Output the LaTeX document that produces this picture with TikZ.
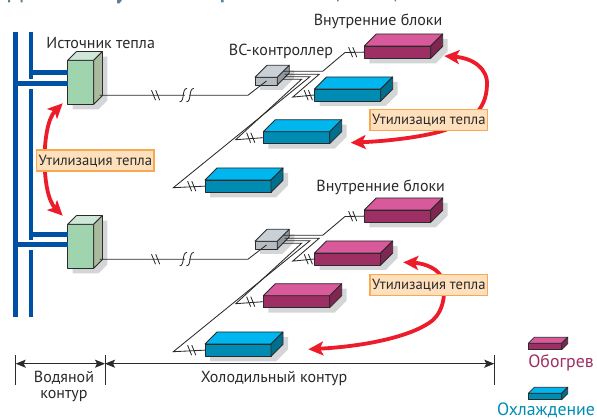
\documentclass[tikz,border=0pt]{standalone}
\usepackage{fontspec}
\setmainfont{PT Sans}
\usetikzlibrary{arrows.meta,calc}
\definecolor{lc}{HTML}{2B2A2B}
\definecolor{shad}{HTML}{D3D5D7}
\definecolor{pipe}{HTML}{0050A4}
\definecolor{heat}{HTML}{ED1C2A}
\definecolor{lbord}{HTML}{F7A850}
\definecolor{lfill}{HTML}{FFE0BC}
\definecolor{greenT}{HTML}{CFE7D8}\definecolor{greenF}{HTML}{9FD4AE}\definecolor{greenS}{HTML}{A9BA9E}
\definecolor{grayT}{HTML}{C9D1D7}\definecolor{grayF}{HTML}{B5BDC3}\definecolor{grayS}{HTML}{8F999F}
\definecolor{blueT}{HTML}{00B6EE}\definecolor{blueF}{HTML}{008CB2}\definecolor{blueS}{HTML}{006F8E}
\definecolor{magT}{HTML}{D95A9A}\definecolor{magF}{HTML}{9E2F65}\definecolor{magS}{HTML}{7F2750}
\definecolor{titlec}{HTML}{5A8299}
\tikzset{
  wire/.style={draw=lc,line width=0.85pt},
  dimline/.style={draw=lc,line width=0.85pt},
  dimarrow/.style={{Stealth[length=10pt,width=8pt,inset=2pt]}-{Stealth[length=10pt,width=8pt,inset=2pt]}},
  edgeline/.style={draw=lc,line width=0.8pt,line join=round},
  pipeline/.style={draw=pipe,line width=4.6pt},
  heatarrow/.style={draw=heat,line width=3.8pt,{Stealth[length=15pt,width=14pt,inset=3.5pt]}-{Stealth[length=15pt,width=14pt,inset=3.5pt]}},
  heatlabel/.style={draw=lbord,fill=lfill,line width=1.8pt,inner sep=0pt,minimum width=117.5pt,minimum height=21pt,font=\fontsize{14.7}{16}\selectfont,text=lc},
  caption/.style={font=\fontsize{16}{16}\selectfont,text=lc,inner sep=0pt,align=center},
}
\newcommand\boxonly[7]{%
  \node[edgeline,fill=#7F,inner sep=0pt,outer sep=0pt,anchor=north west,
        minimum width={(#4-#2)*1pt},minimum height={(#5-#3)*1pt}] (#1) at (#2,#3) {};
  \filldraw[edgeline,fill=#7T] (#2,#3) -- ({#2+#6},{#3-#6}) -- ({#4+#6},{#3-#6}) -- (#4,#3) -- cycle;
  \filldraw[edgeline,fill=#7S] (#4,#3) -- ({#4+#6},{#3-#6}) -- ({#4+#6},{#5-#6}) -- (#4,#5) -- cycle;
}
\newcommand\unitbox[7]{%
  \fill[shad] ({#2+5},{#5+5}) -- ({#4+5},{#5+5}) -- ({#4+#6+5},{#5-#6+5}) -- ({#4+#6+5},{#3-#6+5}) -- (#4,{#3-#6+5}) -- ({#2+5},#3) -- cycle;
  \boxonly{#1}{#2}{#3}{#4}{#5}{#6}{#7}
}
\newcommand\brk[2]{%
  \draw[wire] ({#1-4.1},{#2-5}) -- ({#1-0.1},{#2+5});
  \draw[wire] ({#1+0.1},{#2-5}) -- ({#1+4.1},{#2+5});
}
\newcommand\vrfgroup[6]{%
\begin{scope}[shift={(0,#2)}]
  \unitbox{src#1}{67.7}{60.3}{93.7}{104.3}{8.7}{green}
  \unitbox{ua#1}{364.3}{46}{430.7}{58.3}{12}{#3}
  \unitbox{ub#1}{314.5}{89}{380.7}{101}{12}{#4}
  \unitbox{uc#1}{263.3}{131.7}{329.7}{143.7}{12}{#5}
  \unitbox{ud#1}{205}{180}{271}{192.3}{12}{#6}
  \unitbox{ctl#1}{255}{77.3}{277.3}{85}{12}{gray}
  \coordinate (srcout#1) at (99.5,95.2);
  \coordinate (ctlin#1) at (266.5,81);
  \draw[wire] (srcout#1) -- (248,95.2) -- (ctlin#1);
  \fill[white] (184.6,93.5) rectangle (188.8,97);
  \draw[wire] (179.6,101.8) .. controls (185,102) and (181.5,88.5) .. (187,88.4);
  \draw[wire] (186.4,101.8) .. controls (191.8,102) and (188.3,88.5) .. (193.8,88.4);
  \brk{155.6}{95.2}
  \coordinate (ca#1) at (283.3,71.3);
  \coordinate (cb#1) at (284.5,74.2);
  \coordinate (cc#1) at (282.5,79.2);
  \coordinate (cd#1) at (284.5,76.7);
  \draw[wire] (ca#1) -- (322.7,71.3) -- (345,52.5) -- (ua#1.west);
  \draw[wire] (cb#1) -- (319.3,74.2) -- (292.7,97.1) -- (ub#1.west);
  \draw[wire] (cc#1) -- (301.7,79.2) -- (235.7,139.7) -- (uc#1.west);
  \draw[wire] (cd#1) -- (310,76.7) -- (173.3,187.7) -- (ud#1.west);
  \brk{352.7}{52.2}
  \brk{308.3}{95.2}
  \brk{250.7}{137.7}
  \brk{191.7}{186.2}
\end{scope}
}
\begin{document}
\begin{tikzpicture}[x=1pt,y=-1pt]
\useasboundingbox (0,0) rectangle (597,419);
\fill[titlec] (8,0) rectangle (10,2.5) (20.5,0) rectangle (22.5,2.5) (221,0) rectangle (223.5,2.5) (337,0) rectangle (338.5,1.5) (394.5,0) rectangle (396,1.5);
\fill[titlec] (117,0) -- (122,0) -- (119.5,3.5) -- (117,3.5) -- cycle;
\draw[pipeline] (15.5,32) -- (15.5,316.7);
\draw[pipeline] (31,32) -- (31,78.7);
\draw[pipeline] (31,88.7) -- (31,239.7);
\draw[pipeline] (31,249.7) -- (31,316.7);
\vrfgroup{one}{0}{mag}{blue}{blue}{blue}
\vrfgroup{two}{164}{mag}{mag}{mag}{blue}
\draw[pipeline] (31,72.7) -- (srcone.west|-31,72.7);
\draw[pipeline] (15.5,83.3) -- (srcone.west|-15,83.3);
\draw[pipeline] (31,234.7) -- (srctwo.west|-31,234.7);
\draw[pipeline] (15.5,244.7) -- (srctwo.west|-15,244.7);
\coordinate (ha) at (62.7,103.3);
\coordinate (hb) at (62.7,215.7);
\coordinate (hc) at (444.3,56);
\coordinate (hd) at (350.7,142.7);
\coordinate (he) at (403.3,262.3);
\coordinate (hf) at (308.3,349.3);
\draw[heatarrow] (ha) .. controls (41,125) and (41,194) .. (hb);
\draw[heatarrow] (hc) .. controls (472,58) and (488,68) .. (487,85) .. controls (486,112) and (470,122) .. (440,131.7) .. controls (420,137) and (390,141) .. (hd);
\draw[heatarrow] (he) .. controls (420,263) and (435,266) .. (441,276) .. controls (447,290) and (444,310) .. (433,320) .. controls (415,335) and (370,346) .. (hf);
\node[heatlabel] (la) at (95.3,160.8) {Утилизация тепла};
\node[heatlabel] (lb) at (428.8,120) {Утилизация тепла};
\node[heatlabel] (lc) at (428.8,285) {Утилизация тепла};
\node[caption] (t1) at (100.7,43.2) {Источник тепла};
\node[caption] (t2) at (281,51.2) {ВС-контроллер};
\node[caption] (t3) at (378,21.8) {Внутренние блоки};
\node[caption] (t4) at (380.7,187.2) {Внутренние блоки};
\node[caption] (t5) at (64,386.5) {Водяной\\контур};
\node[caption] (t7) at (274,378.5) {Холодильный контур};
\coordinate (da) at (15.7,355.5);
\coordinate (db) at (105,355.5);
\coordinate (dc) at (494.3,355.5);
\draw[dimline] (da) -- +(0,30);
\draw[dimline] (db) -- +(0,30);
\draw[dimline] (dc) -- +(0,30);
\draw[dimline,dimarrow] ($(da)+(0,8.2)$) -- ($(db)+(0,8.2)$);
\draw[dimline,dimarrow] ($(db)+(0,8.2)$) -- ($(dc)+(0,8.2)$);
\boxonly{lega}{528.3}{343.3}{561.7}{349.7}{6}{mag}
\boxonly{legb}{528.3}{393.3}{561.7}{399.7}{6}{blue}
\node[inner sep=0pt,text=magF,font=\fontsize{17.8}{19}\selectfont] (t8) at (561,362.5) {Обогрев};
\node[inner sep=0pt,anchor=base,text=blueF,font=\fontsize{17.8}{19}\selectfont] (t9) at (546,415) {Охлаждение};
\end{tikzpicture}
\end{document}
